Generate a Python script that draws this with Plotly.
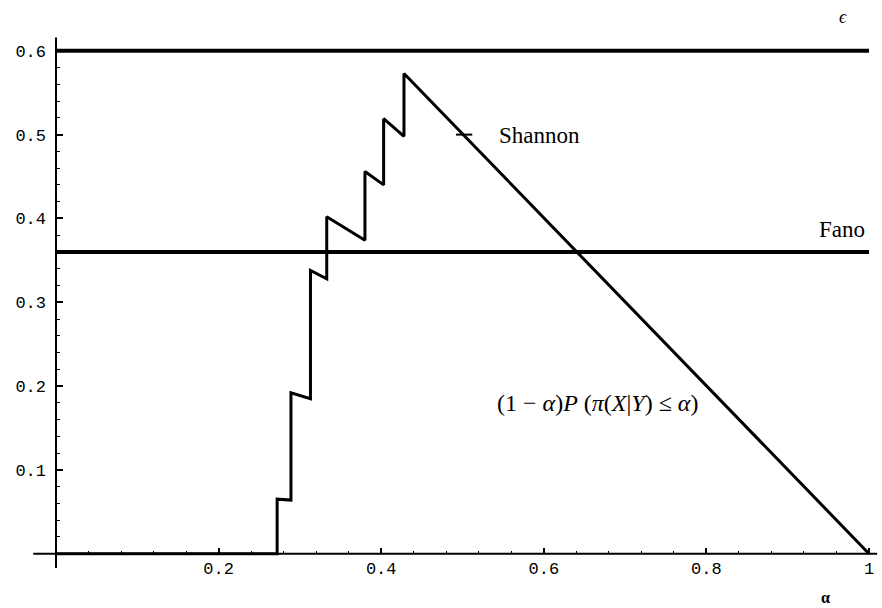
import plotly.graph_objects as go

# ---- data ----
alpha = [0.0, 0.272, 0.272, 0.289, 0.289, 0.313, 0.313, 0.333, 0.333,
         0.380, 0.380, 0.403, 0.403, 0.428, 0.428, 1.0]
eps = [0.0, 0.0, 0.065, 0.064, 0.192, 0.185, 0.338, 0.328, 0.402,
       0.374, 0.456, 0.440, 0.519, 0.498, 0.573, 0.0]

shannon_bound = 0.6
fano_bound = 0.36
shannon_mark_alpha = 0.5
shannon_mark_eps = 0.5

x_tickvals = [0.2, 0.4, 0.6, 0.8, 1.0]
x_ticktext = ["0.2", "0.4", "0.6", "0.8", "1"]
y_tickvals = [0.1, 0.2, 0.3, 0.4, 0.5, 0.6]
y_ticktext = ["0.1", "0.2", "0.3", "0.4", "0.5", "0.6"]

# ---- layout geometry ----
W, H = 882, 608
x0, x1 = -0.0689, 1.0160
y0, y1 = -0.0648, 0.6606

x_minor = [round(0.04 * i, 2) for i in range(1, 25) if i % 5 != 0]
y_minor = [round(0.02 * i, 2) for i in range(1, 30) if i % 5 != 0]

fig = go.Figure()

# axis lines
fig.add_trace(go.Scatter(x=[-0.028, 1.01], y=[0, 0], mode="lines",
                         line=dict(color="black", width=2), hoverinfo="skip"))
fig.add_trace(go.Scatter(x=[0, 0], y=[-0.017, 0.616], mode="lines",
                         line=dict(color="black", width=2), hoverinfo="skip"))

# Shannon and Fano bounds
fig.add_trace(go.Scatter(x=[0, 1], y=[shannon_bound, shannon_bound], mode="lines",
                         line=dict(color="black", width=4), hoverinfo="skip"))
fig.add_trace(go.Scatter(x=[0, 1], y=[fano_bound, fano_bound], mode="lines",
                         line=dict(color="black", width=4), hoverinfo="skip"))

# main curve
fig.add_trace(go.Scatter(x=alpha, y=eps, mode="lines",
                         line=dict(color="black", width=3), hoverinfo="skip"))

# Shannon marker dash
fig.add_trace(go.Scatter(x=[shannon_mark_alpha - 0.008, shannon_mark_alpha + 0.012],
                         y=[shannon_mark_eps, shannon_mark_eps], mode="lines",
                         line=dict(color="black", width=2), hoverinfo="skip"))

serif = "Liberation Serif, Times New Roman, serif"
mono = "Liberation Mono, Courier New, monospace"

annotations = [
    dict(x=0.5425, y=0.499, text="Shannon", xanchor="left", yanchor="middle",
         font=dict(family=serif, size=23, color="black")),
    dict(x=0.997, y=0.387, text="Fano", xanchor="right", yanchor="middle",
         font=dict(family=serif, size=23, color="black")),
    dict(x=0.540, y=0.180,
         text="(1 − <i>α</i>)<i>P</i> (<i>π</i>(<i>X</i>|<i>Y</i>) ≤ <i>α</i>)",
         xanchor="left", yanchor="middle",
         font=dict(family=serif, size=24, color="black")),
    dict(x=0.968, y=0.640, text="<i>ϵ</i>", xanchor="center", yanchor="middle",
         font=dict(family=serif, size=18, color="black")),
    dict(x=0.947, y=-0.052, text="<b>α</b>", xanchor="center", yanchor="middle",
         font=dict(family=serif, size=16, color="black")),
]
for a in annotations:
    a.update(xref="x", yref="y", showarrow=False)

fig.update_layout(
    width=W, height=H,
    margin=dict(l=0, r=0, t=0, b=0),
    paper_bgcolor="white", plot_bgcolor="white",
    showlegend=False,
    annotations=annotations,
    xaxis=dict(range=[x0, x1], anchor="free", position=(0 - y0) / (y1 - y0),
               showgrid=False, zeroline=False, showline=False,
               tickvals=x_tickvals, ticktext=x_ticktext,
               ticks="inside", ticklen=6, tickwidth=1.5, tickcolor="black",
               ticklabelstandoff=2,
               tickfont=dict(family=mono, size=17, color="black"),
               minor=dict(tickvals=x_minor, ticks="inside", ticklen=3,
                          tickwidth=1, tickcolor="black"),
               fixedrange=True),
    yaxis=dict(range=[y0, y1], anchor="free", position=(0 - x0) / (x1 - x0),
               showgrid=False, zeroline=False, showline=False,
               tickvals=y_tickvals, ticktext=y_ticktext,
               ticks="inside", ticklen=6, tickwidth=1.5, tickcolor="black",
               ticklabelstandoff=10,
               tickfont=dict(family=mono, size=17, color="black"),
               minor=dict(tickvals=y_minor, ticks="inside", ticklen=3,
                          tickwidth=1, tickcolor="black"),
               fixedrange=True),
)

fig.write_html("out.html", config={"displayModeBar": False},
               post_script="document.body.style.margin='0';document.body.style.padding='0';document.body.style.overflow='hidden';")
